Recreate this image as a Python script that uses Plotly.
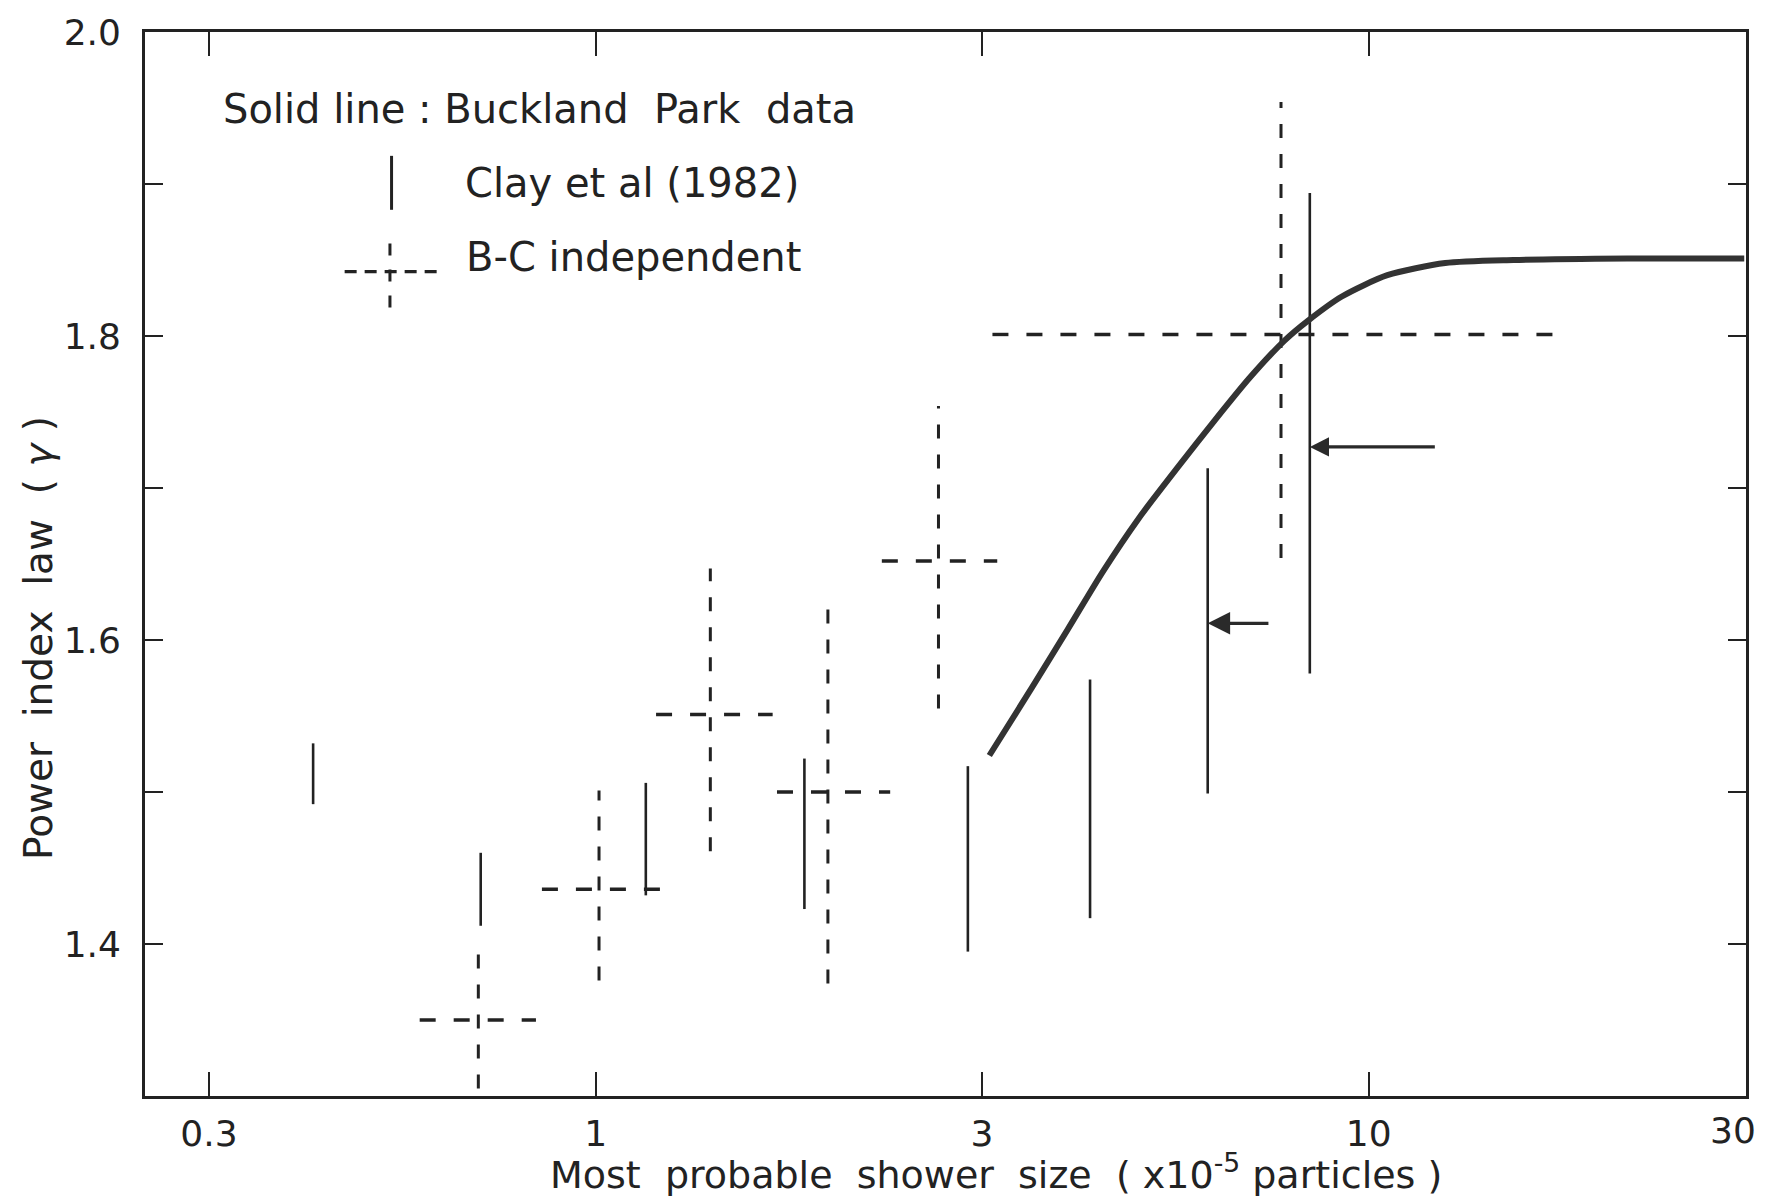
import numpy as np
import plotly.graph_objects as go

# ---------------- data ----------------
# Clay et al (1982): vertical solid bars
clay_x = [0.431, 0.710, 1.161, 1.862, 3.03, 4.36, 6.19, 8.39]
clay_lo = [1.492, 1.412, 1.432, 1.423, 1.395, 1.417, 1.499, 1.578]
clay_hi = [1.532, 1.460, 1.506, 1.522, 1.517, 1.574, 1.713, 1.894]

# B-C independent: dashed crosses
bc_x = [0.705, 1.01, 1.407, 1.997, 2.776, 7.70]
bc_y = [1.350, 1.436, 1.551, 1.500, 1.652, 1.801]
bc_ylo = [1.305, 1.376, 1.461, 1.374, 1.555, 1.654]
bc_yhi = [1.394, 1.501, 1.647, 1.622, 1.754, 1.954]
bc_xlo = [0.592, 0.852, 1.197, 1.716, 2.345, 3.26]
bc_xhi = [0.837, 1.213, 1.694, 2.404, 3.307, 18.03]

# Buckland Park data: solid curve
bp_x = [3.23, 3.67, 4.08, 4.53, 5.04, 5.69, 6.31, 7.00, 7.78, 8.34,
        9.23, 10.57, 12.56, 15.39, 21.6, 30.6]
bp_y = [1.524, 1.569, 1.607, 1.645, 1.680, 1.715, 1.744, 1.772, 1.797, 1.810,
        1.826, 1.840, 1.848, 1.850, 1.851, 1.851]

# arrows pointing at two Clay bars
arrow_head_x = [6.19, 8.39]
arrow_tail_x = [7.45, 12.23]
arrow_y = [1.611, 1.727]

# axis ticks
x_tick_vals = [0.316, 1.0, 3.16, 10.0]
x_tick_text = ["0.3", "1", "3", "10"]
x_edge_label_val = 29.6
x_edge_label = "30"
y_tick_vals = [1.4, 1.6, 1.8, 2.0]
y_tick_text = ["1.4", "1.6", "1.8", "2.0"]
y_minor_step = 0.1

FONT = "DejaVu Sans, Verdana, sans-serif"
INK = "#222222"
NB = "\u00a0"


def seg_xy(xs0, xs1, ys0, ys1):
    xx, yy = [], []
    for a, b, c, d in zip(xs0, xs1, ys0, ys1):
        xx += [a, b, None]
        yy += [c, d, None]
    return xx, yy


fig = go.Figure()

# Clay bars
cx, cy = seg_xy(clay_x, clay_x, clay_lo, clay_hi)
fig.add_trace(go.Scatter(x=cx, y=cy, mode="lines",
                         line=dict(color=INK, width=2.6), hoverinfo="skip",
                         showlegend=False))

# B-C vertical dashed parts
vx, vy = seg_xy(bc_x, bc_x, bc_ylo, bc_yhi)
fig.add_trace(go.Scatter(x=vx, y=vy, mode="lines",
                         line=dict(color=INK, width=3, dash="14px,16px"),
                         hoverinfo="skip", showlegend=False))
# B-C horizontal dashed parts
hx, hy = seg_xy(bc_xlo, bc_xhi, bc_y, bc_y)
fig.add_trace(go.Scatter(x=hx, y=hy, mode="lines",
                         line=dict(color=INK, width=3.4, dash="16px,18px"),
                         hoverinfo="skip", showlegend=False))

# Buckland Park curve
fig.add_trace(go.Scatter(x=bp_x, y=bp_y, mode="lines",
                         line=dict(color="#333333", width=6, shape="spline",
                                   smoothing=0.7),
                         hoverinfo="skip", showlegend=False))

annotations = []
# arrows
for hxv, txv, yv, sz in zip(arrow_head_x, arrow_tail_x, arrow_y, [1.4, 1.2]):
    annotations.append(dict(x=np.log10(hxv), y=yv, xref="x", yref="y",
                            ax=np.log10(txv), ay=yv, axref="x", ayref="y",
                            text="", showarrow=True, arrowhead=2,
                            arrowsize=sz, arrowwidth=3.2, arrowcolor="#2a2a2a"))

# edge tick label "30"
annotations.append(dict(x=np.log10(x_edge_label_val), y=0, xref="x", yref="paper",
                        text=x_edge_label, showarrow=False, yanchor="top",
                        yshift=-12, font=dict(family=FONT, size=36, color=INK)))

# axis titles
annotations.append(dict(x=0.5317, y=-0.0715, xref="paper", yref="paper",
                        text=("Most" + NB * 2 + "probable" + NB * 2 + "shower" + NB * 2 +
                              "size" + NB * 2 + "(" + NB + "x10<sup>-5</sup>" + NB +
                              "particles" + NB + ")"),
                        showarrow=False, xanchor="center", yanchor="middle",
                        font=dict(family=FONT, size=38, color=INK)))
annotations.append(dict(x=-0.0669, y=0.4304, xref="paper", yref="paper",
                        text=("Power" + NB * 2 + "index" + NB * 2 + "law" + NB * 2 +
                              "(" + NB + "<i>γ</i>" + NB + ")"),
                        textangle=-90, showarrow=False, xanchor="center",
                        yanchor="middle",
                        font=dict(family=FONT, size=39, color=INK)))

# legend texts
annotations.append(dict(x=0.0474, y=0.9274, xref="paper", yref="paper",
                        text=("Solid" + NB + "line" + NB + ":" + NB + "Buckland" + NB * 2 +
                              "Park" + NB * 2 + "data"),
                        showarrow=False, xanchor="left", yanchor="middle",
                        font=dict(family=FONT, size=40, color=INK)))
annotations.append(dict(x=0.1986, y=0.8584, xref="paper", yref="paper",
                        text="Clay" + NB + "et" + NB + "al" + NB + "(1982)",
                        showarrow=False, xanchor="left", yanchor="middle",
                        font=dict(family=FONT, size=40, color=INK)))
annotations.append(dict(x=0.1991, y=0.7886, xref="paper", yref="paper",
                        text="B-C" + NB + "independent",
                        showarrow=False, xanchor="left", yanchor="middle",
                        font=dict(family=FONT, size=40, color=INK)))

shapes = [
    # legend: solid bar
    dict(type="line", xref="paper", yref="paper", x0=0.154, x1=0.154,
         y0=0.8329, y1=0.8836, line=dict(color=INK, width=3)),
    # legend: dashed cross
    dict(type="line", xref="paper", yref="paper", x0=0.153, x1=0.153,
         y0=0.7411, y1=0.8118, line=dict(color=INK, width=3, dash="12px,14px")),
    dict(type="line", xref="paper", yref="paper", x0=0.1247, x1=0.1833,
         y0=0.7748, y1=0.7748, line=dict(color=INK, width=3.4, dash="12px,8px")),
]

fig.update_layout(
    width=1774, height=1201,
    margin=dict(l=145, r=28, t=24, b=105),
    paper_bgcolor="white", plot_bgcolor="white",
    annotations=annotations, shapes=shapes,
    font=dict(family=FONT, color=INK),
)

fig.update_xaxes(type="log", range=[-0.583, 1.488],
                 tickvals=x_tick_vals, ticktext=x_tick_text,
                 ticks="inside", ticklen=24, tickwidth=2.4, tickcolor=INK,
                 showline=True, linewidth=2.8, linecolor=INK, mirror="ticks",
                 showgrid=False, zeroline=False, ticklabelstandoff=4,
                 tickfont=dict(family=FONT, size=36, color=INK))
fig.update_yaxes(range=[1.3, 2.0],
                 tickvals=y_tick_vals, ticktext=y_tick_text,
                 ticks="inside", ticklen=18, tickwidth=2.4, tickcolor=INK,
                 minor=dict(dtick=y_minor_step, tick0=1.3, ticks="inside",
                            ticklen=18, tickwidth=2.4, tickcolor=INK,
                            showgrid=False),
                 showline=True, linewidth=2.8, linecolor=INK, mirror="ticks",
                 showgrid=False, zeroline=False, ticklabelstandoff=14,
                 tickfont=dict(family=FONT, size=36, color=INK))

fig.write_html("out.html")
